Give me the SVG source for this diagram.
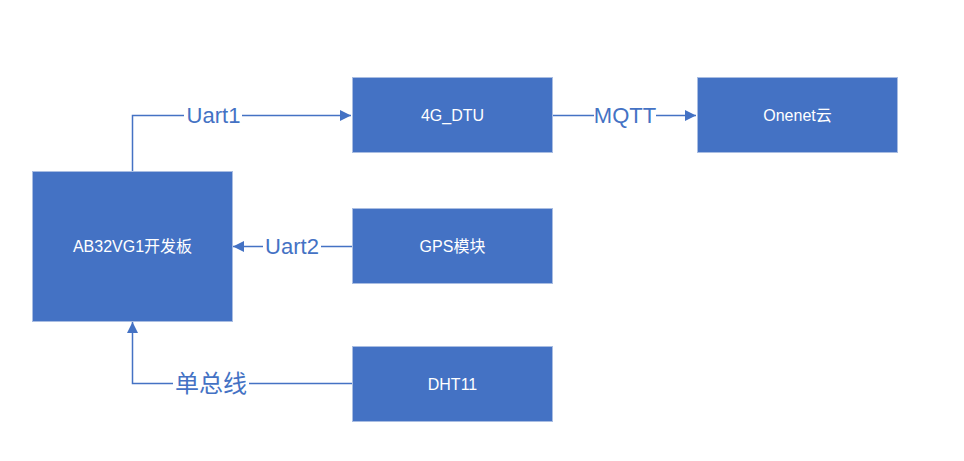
<svg xmlns="http://www.w3.org/2000/svg" width="964" height="461" viewBox="0 0 964 461">
<style>
.box{fill:#4472C4;stroke:#A9BDE2;stroke-width:1}
.bt{font-family:"Liberation Sans","Noto Sans CJK SC",sans-serif;font-size:16px;fill:#FFFFFF;text-anchor:middle;dominant-baseline:central}
.ln{fill:none;stroke:#4472C4;stroke-width:1.5}
.lb{font-family:"Liberation Sans","Noto Sans CJK SC",sans-serif;font-size:22px;fill:#4472C4;text-anchor:middle;dominant-baseline:central}
.bg{fill:#FFFFFF}
</style>
<defs>
<marker id="arr" viewBox="0 0 10 10" refX="10" refY="5" markerWidth="11" markerHeight="11" markerUnits="userSpaceOnUse" orient="auto">
<path d="M0,0 L10,5 L0,10 z" fill="#4472C4"/>
</marker>
</defs>
<rect width="964" height="461" fill="#FFFFFF"/>
<g id="connectors">
<g id="c-uart1">
<path class="ln" d="M132.5,171 V115.5 H351" marker-end="url(#arr)"/>
<rect class="bg" x="184" y="103" width="58" height="25"/>
<text class="lb" x="213.5" y="115">Uart1</text>
</g>
<g id="c-mqtt">
<path class="ln" d="M552,115.5 H696" marker-end="url(#arr)"/>
<rect class="bg" x="594" y="103" width="62" height="25"/>
<text class="lb" x="625" y="115">MQTT</text>
</g>
<g id="c-uart2">
<path class="ln" d="M352,246.5 H233" marker-end="url(#arr)"/>
<rect class="bg" x="263" y="234" width="58" height="25"/>
<text class="lb" x="292" y="246">Uart2</text>
</g>
<g id="c-bus">
<path class="ln" d="M352,383.5 H132.5 V322" marker-end="url(#arr)"/>
<rect class="bg" x="173" y="369" width="76" height="29"/>
<text class="lb" x="211" y="383" style="font-size:24px">单总线</text>
</g>
</g>
<g id="n-main">
<rect class="box" x="32.5" y="171.5" width="200" height="150"/>
<text class="bt" x="132.5" y="246.5">AB32VG1开发板</text>
</g>
<g id="n-dtu">
<rect class="box" x="352.5" y="77.5" width="200" height="75"/>
<text class="bt" x="452.5" y="115">4G_DTU</text>
</g>
<g id="n-onenet">
<rect class="box" x="697.5" y="77.5" width="200" height="75"/>
<text class="bt" x="797.5" y="115">Onenet云</text>
</g>
<g id="n-gps">
<rect class="box" x="352.5" y="208.5" width="200" height="75"/>
<text class="bt" x="452.5" y="246">GPS模块</text>
</g>
<g id="n-dht">
<rect class="box" x="352.5" y="346.5" width="200" height="75"/>
<text class="bt" x="452.5" y="384">DHT11</text>
</g>
</svg>
